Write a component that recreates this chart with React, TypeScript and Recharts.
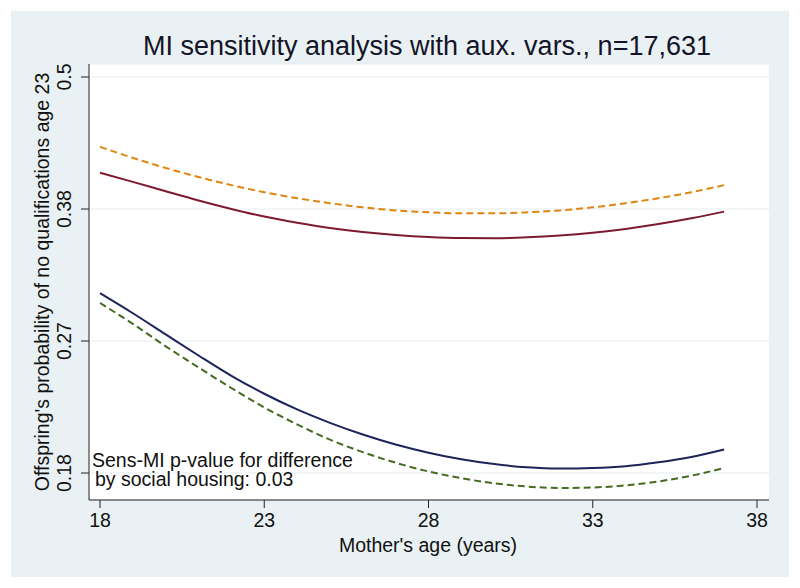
import React from "react";
import { LineChart, Line, XAxis, YAxis, CartesianGrid } from "recharts";

// Mother's age (years)
const ages = [18, 19, 20, 21, 22, 23, 24, 25, 26, 27, 28, 29, 30, 31, 32, 33, 34, 35, 36, 37];

// predicted probabilities (y axis is on the logit scale)
const miSocial = [0.4103, 0.402, 0.3935, 0.3852, 0.3776, 0.3708, 0.3654, 0.3608, 0.3573, 0.3547, 0.3529, 0.352, 0.3519, 0.3527, 0.3543, 0.3567, 0.36, 0.3642, 0.3693, 0.3752];
const sensSocial = [0.4343, 0.424, 0.4147, 0.4064, 0.399, 0.3926, 0.3872, 0.3827, 0.379, 0.3763, 0.3746, 0.3737, 0.3737, 0.3746, 0.3763, 0.379, 0.3827, 0.3872, 0.3926, 0.399];
const miOther = [0.306, 0.2901, 0.2739, 0.2583, 0.2438, 0.2315, 0.2211, 0.2125, 0.2052, 0.1991, 0.1942, 0.1903, 0.1875, 0.1857, 0.185, 0.1853, 0.1863, 0.1886, 0.1917, 0.1961];
const sensOther = [0.2982, 0.2819, 0.265, 0.2497, 0.2354, 0.2224, 0.2115, 0.202, 0.1945, 0.1883, 0.1833, 0.1795, 0.1767, 0.1749, 0.1741, 0.1744, 0.1755, 0.1777, 0.1809, 0.1853];

const xTicks = [18, 23, 28, 33, 38];
const yTickLogits = [-1.5, -1, -0.5, 0];
const yTickLabels = ["0.18", "0.27", "0.38", "0.5"];

const FONT = "'Liberation Sans', Arial, Helvetica, sans-serif";

const logit = (p: number) => Math.log(p / (1 - p));

const rows = ages.map((age, i) => ({
  age,
  miSocial: logit(miSocial[i]),
  sensSocial: logit(sensSocial[i]),
  miOther: logit(miOther[i]),
  sensOther: logit(sensOther[i]),
}));

// plot area is 436px tall; ticks 0 and -1.5 sit 13px / 27px inside its edges
const PX_PER_UNIT = 264;
const yDomain = [-1.5 - 27 / PX_PER_UNIT, 0 + 13 / PX_PER_UNIT];

// rotated y tick labels, Stata style
const YTick = (props: any) => {
  const { y, payload } = props;
  const idx = yTickLogits.indexOf(payload.value);
  const label = idx >= 0 ? yTickLabels[idx] : String(payload.value);
  return (
    <text
      x={60}
      y={y}
      transform={`rotate(-90, 60, ${y})`}
      textAnchor="middle"
      fontSize={19.5}
      fontFamily={FONT}
      fill="#111"
    >
      {label}
    </text>
  );
};

export default function App() {
  return (
    <div style={{ position: "absolute", left: 0, top: 0, width: 800, height: 588, background: "#fff", fontFamily: FONT }}>
      <div style={{ position: "absolute", left: 11, top: 11, width: 778, height: 566, background: "#EAF1F4" }}>
        <LineChart width={778} height={566} data={rows} margin={{ top: 53, right: 20, bottom: 37, left: 0 }}>
          <CartesianGrid horizontal vertical={false} fill="#fff" stroke="#e6edf0" />
          <XAxis
            dataKey="age"
            type="number"
            domain={[18, 38]}
            ticks={xTicks}
            padding={{ left: 11, right: 12 }}
            height={40}
            tickSize={8}
            tickMargin={5}
            axisLine={{ stroke: "#222" }}
            tickLine={{ stroke: "#222" }}
            tick={{ fontSize: 19.5, fill: "#111", fontFamily: FONT }}
          />
          <YAxis
            type="number"
            domain={yDomain}
            allowDataOverflow
            ticks={yTickLogits}
            width={78}
            tickSize={8}
            axisLine={{ stroke: "#222" }}
            tickLine={{ stroke: "#222" }}
            tick={<YTick />}
          />
          <Line type="monotone" dataKey="sensSocial" stroke="#e0850f" strokeWidth={2} strokeDasharray="7 4" dot={false} isAnimationActive={false} />
          <Line type="monotone" dataKey="miSocial" stroke="#7e1a2f" strokeWidth={2} dot={false} isAnimationActive={false} />
          <Line type="monotone" dataKey="miOther" stroke="#1c2459" strokeWidth={2} dot={false} isAnimationActive={false} />
          <Line type="monotone" dataKey="sensOther" stroke="#456a20" strokeWidth={2} strokeDasharray="7 4" dot={false} isAnimationActive={false} />
        </LineChart>
      </div>
      <svg width={800} height={588} style={{ position: "absolute", left: 0, top: 0, pointerEvents: "none" }}>
        <text x={427} y={55} textAnchor="middle" fontSize={27} fontFamily={FONT} fill="#141428">
          MI sensitivity analysis with aux. vars., n=17,631
        </text>
        <text x={428} y={552} textAnchor="middle" fontSize={19.5} fontFamily={FONT} fill="#111">
          Mother's age (years)
        </text>
        <text x={49} y={282} transform="rotate(-90, 49, 282)" textAnchor="middle" fontSize={19.5} fontFamily={FONT} fill="#111">
          Offspring's probability of no qualifications age 23
        </text>
        <text x={92} y={467} fontSize={19.5} fontFamily={FONT} fill="#111">
          Sens-MI p-value for difference
        </text>
        <text x={95} y={486} fontSize={19.5} fontFamily={FONT} fill="#111">
          by social housing: 0.03
        </text>
      </svg>
    </div>
  );
}
